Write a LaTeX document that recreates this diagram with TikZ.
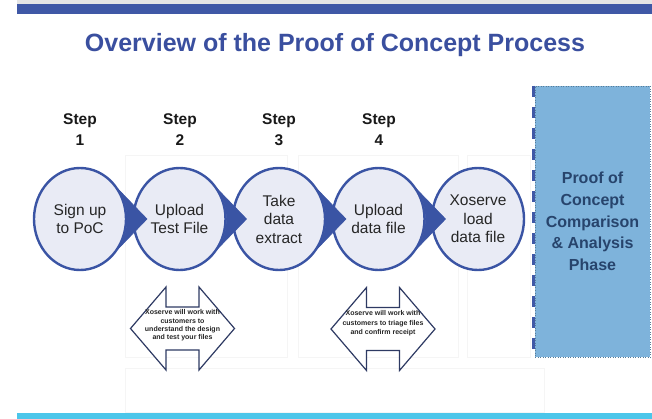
\documentclass[tikz,border=0pt]{standalone}
\usepackage{fontspec}
\setmainfont{Liberation Sans}
\usetikzlibrary{shapes.geometric,calc}

\definecolor{barblue}{HTML}{3F58A6}
\definecolor{titleblue}{HTML}{3A4F9F}
\definecolor{ringblue}{HTML}{3A54A4}
\definecolor{discfill}{HTML}{E9EBF5}
\definecolor{phasefill}{HTML}{7EB3DB}
\definecolor{phasetext}{HTML}{27446C}
\definecolor{arrowline}{HTML}{2E3A63}
\definecolor{footcyan}{HTML}{4CC6EA}

\tikzset{
  disc/.style={ellipse, draw=ringblue, line width=2.4pt, fill=discfill,
    minimum width=92pt, minimum height=102pt, inner sep=0pt, align=center,
    font=\fontsize{15.5}{18.5}\selectfont, text=black!85},
  steplabel/.style={align=center, font=\fontsize{15.5}{21}\selectfont\bfseries, text=black!90},
  pointer/.style={fill=ringblue, draw=ringblue, line width=0.6pt, line join=miter},
  biarrow/.style={draw=arrowline, line width=1.2pt, fill=white, line join=miter},
  note/.style={align=center, font=\fontsize{7}{8.3}\selectfont\bfseries, text=black!85},
  phasebox/.style={fill=phasefill, draw=phasefill!70!black, line width=0.5pt, dotted,
    minimum width=115pt, minimum height=271pt},
  ghost/.style={draw=black!4, line width=0.8pt},
}

\begin{document}
\begin{tikzpicture}[x=1pt,y=1pt]
\useasboundingbox (0,0) rectangle (652,-419);

% faint panels behind the process
\draw[ghost] (125,-155) rectangle (287,-357);
\draw[ghost] (298,-155) rectangle (458,-357);
\draw[ghost] (467,-155) rectangle (530,-357);
\draw[ghost] (125,-368) rectangle (544,-412);

% header and footer bars
\fill[black!10] (17,0) rectangle (652,-4);
\fill[barblue] (17,-4) rectangle (652,-14);
\fill[footcyan] (17,-413) rectangle (652,-419);

\node[font=\fontsize{25}{30}\selectfont\bfseries, text=titleblue, anchor=base] (title)
  at (335,-52) {Overview of the Proof of Concept Process};

% step numbers
\node[steplabel] (l1) at (80,-130) {Step\\1};
\node[steplabel] (l2) at (180,-130) {Step\\2};
\node[steplabel] (l3) at (279,-130) {Step\\3};
\node[steplabel] (l4) at (379,-130) {Step\\4};

% process discs
\node[disc] (c1) at (80,-219) {Sign up\\to PoC};
\node[disc] (c2) at (179.5,-219) {Upload\\Test File};
\node[disc] (c3) at (279,-219) {Take\\data\\extract};
\node[disc] (c4) at (378.5,-219) {Upload\\data file};
\node[disc] (c5) at (478,-219) {Xoserve\\load\\data file};

% pointers from one disc into the next
\foreach \i in {1,...,4}
  \filldraw[pointer] ($(c\i.center)+(38,30)$) -- ($(c\i.center)+(67,0)$)
    -- ($(c\i.center)+(38,-30)$)
    arc[start angle=-36, end angle=36, x radius=47pt, y radius=51pt] -- cycle;

% comparison phase
\node[phasebox] (phase) at (592.5,-221.5) {};
\node[align=center, text=phasetext, font=\fontsize{16}{21.75}\selectfont\bfseries] (phasetxt)
  at (phase.center) {Proof of\\Concept\\Comparison\\\& Analysis\\Phase};
\draw[barblue, line width=2.5pt, dash pattern=on 11pt off 10pt]
  ([xshift=-1.3pt]phase.north west) -- ([xshift=-1.3pt]phase.south west);

% two-way arrows under steps 2 and 4
\coordinate (a1) at (182.5,-328.5);
\coordinate (a2) at (383,-329);
\foreach \a in {a1,a2}
  \draw[biarrow] (\a) ++(-52,0) -- ++(35.5,41.5) -- ++(0,-20) -- ++(33,0) -- ++(0,20)
    -- ++(35.5,-41.5) -- ++(-35.5,-41.5) -- ++(0,20) -- ++(-33,0) -- ++(0,-20) -- cycle;

\node[note] (n1) at ([yshift=3pt]a1) {Xoserve will work with\\customers to\\understand the design\\and test your files};
\node[note, font=\fontsize{7}{9.5}\selectfont\bfseries] (n2) at ([yshift=5.5pt]a2)
  {Xoserve will work with\\customers to triage files\\and confirm receipt};
\end{tikzpicture}
\end{document}
